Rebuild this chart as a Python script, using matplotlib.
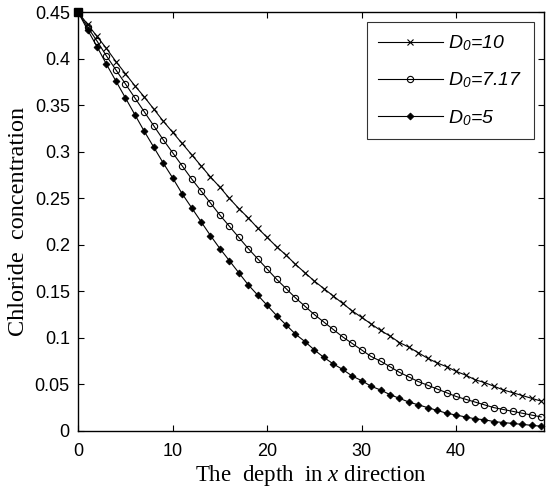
import numpy as np
import matplotlib
matplotlib.use("Agg")
import matplotlib.pyplot as plt

plt.rcParams['mathtext.fontset'] = 'custom'
plt.rcParams['mathtext.rm'] = 'Liberation Serif'
plt.rcParams['mathtext.it'] = 'Liberation Serif:italic'
plt.rcParams['mathtext.sf'] = 'Liberation Sans:italic'

# depth (x) and concentration
depth = np.arange(50)

c_d10 = [0.450, 0.437, 0.424, 0.411, 0.397, 0.384, 0.371, 0.359, 0.346, 0.333,
         0.321, 0.309, 0.297, 0.285, 0.273, 0.262, 0.250, 0.239, 0.229, 0.218,
         0.208, 0.198, 0.189, 0.179, 0.170, 0.161, 0.153, 0.145, 0.137, 0.129,
         0.122, 0.115, 0.108, 0.102, 0.095, 0.090, 0.084, 0.078, 0.073, 0.069,
         0.064, 0.060, 0.055, 0.052, 0.048, 0.044, 0.041, 0.038, 0.035, 0.032]

c_d717 = [0.450, 0.434, 0.419, 0.403, 0.388, 0.373, 0.358, 0.343, 0.328, 0.313,
          0.299, 0.285, 0.271, 0.258, 0.245, 0.232, 0.220, 0.208, 0.196, 0.185,
          0.174, 0.163, 0.153, 0.143, 0.134, 0.125, 0.117, 0.109, 0.101, 0.094,
          0.087, 0.080, 0.075, 0.069, 0.063, 0.058, 0.053, 0.049, 0.045, 0.041,
          0.037, 0.034, 0.031, 0.028, 0.025, 0.023, 0.021, 0.019, 0.017, 0.015]

c_d5 = [0.450, 0.431, 0.413, 0.394, 0.376, 0.358, 0.340, 0.322, 0.305, 0.288,
        0.272, 0.255, 0.240, 0.225, 0.210, 0.196, 0.183, 0.170, 0.157, 0.146,
        0.135, 0.124, 0.114, 0.104, 0.096, 0.087, 0.079, 0.072, 0.066, 0.059,
        0.054, 0.048, 0.044, 0.039, 0.035, 0.031, 0.028, 0.025, 0.022, 0.019,
        0.017, 0.015, 0.013, 0.012, 0.010, 0.009, 0.008, 0.007, 0.006, 0.005]

labels = [r'$\mathsf{D}_\mathsf{0}$=10', r'$\mathsf{D}_\mathsf{0}$=7.17', r'$\mathsf{D}_\mathsf{0}$=5']

fig = plt.figure(figsize=(5.54, 4.88), dpi=100)
ax = fig.add_axes([0.141, 0.117, 0.841, 0.858])

ax.plot(depth, c_d10, color='black', lw=0.8, marker='x', ms=5, mew=0.8,
        label=labels[0], clip_on=False)
ax.plot(depth, c_d717, color='black', lw=0.8, marker='o', ms=4.5, mew=0.8,
        mfc='none', label=labels[1], clip_on=False)
ax.plot(depth, c_d5, color='black', lw=0.8, marker='D', ms=3.5, mew=0.6,
        mfc='black', label=labels[2], clip_on=False)
# filled corner marker where the three curves start
ax.plot(depth[:1], c_d5[:1], color='black', marker='s', ms=6, ls='none', clip_on=False)

ax.set_xlim(0, 49.3)
ax.set_ylim(0, 0.45)
ax.set_xticks([0, 10, 20, 30, 40])
ax.set_yticks(np.arange(0, 0.451, 0.05))
ax.set_yticklabels(['0', '0.05', '0.1', '0.15', '0.2', '0.25', '0.3', '0.35', '0.4', '0.45'])

ax.tick_params(direction='in', length=4, width=0.8, top=True, right=True,
               labelsize=13)
ax.tick_params(axis='x', pad=9)
ax.tick_params(axis='y', pad=6)
for lab in ax.get_xticklabels() + ax.get_yticklabels():
    lab.set_family('Liberation Sans')
for sp in ax.spines.values():
    sp.set_linewidth(1.0)

ax.set_xlabel(r'The  depth  in $x$ direction', family='Liberation Serif', fontsize=16.5, labelpad=2)
ax.set_ylabel('Chloride  concentration', family='Liberation Serif', fontsize=17.5, labelpad=4)

leg = ax.legend(loc='upper right', prop={'family': 'Liberation Sans', 'style': 'italic', 'size': 14},
                frameon=True, fancybox=False, edgecolor='black', borderpad=0.6,
                labelspacing=0.9, handlelength=3.3, handletextpad=0.3,
                borderaxespad=0.5)
leg.get_frame().set_linewidth(0.8)

fig.savefig('out.png', dpi=100)
